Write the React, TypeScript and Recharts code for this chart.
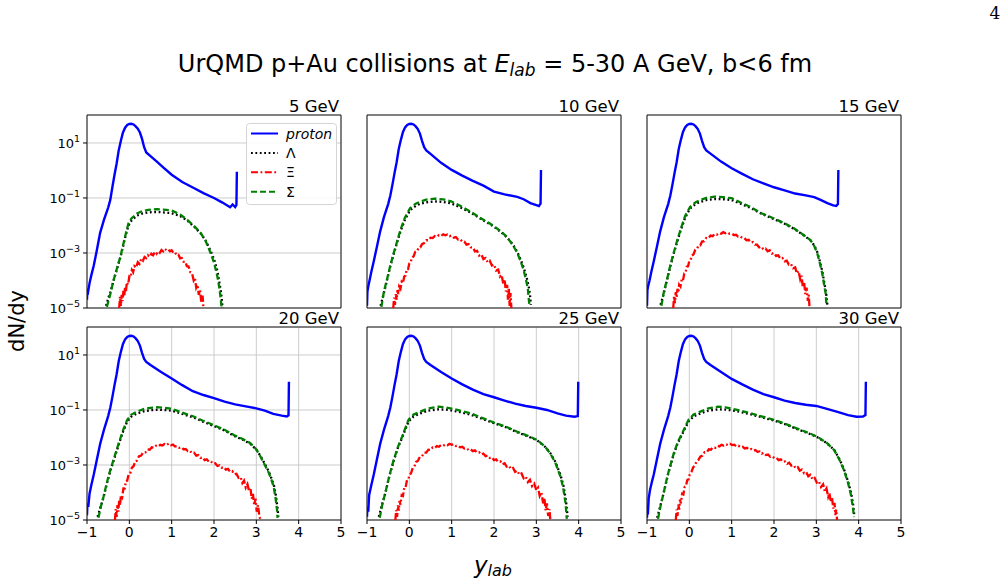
import { CartesianGrid, Legend, Line, LineChart, ReferenceArea, XAxis, YAxis } from 'recharts'

// [rapidity, dN/dy]
type Pt = [number, number]

const energyLabels = ['5 GeV', '10 GeV', '15 GeV', '20 GeV', '25 GeV', '30 GeV']
const xTicks = [-1, 0, 1, 2, 3, 4, 5]
const yTicks = [1e-5, 1e-3, 1e-1, 1e1]
const yDomain: [number, number] = [1e-5, 104]

// ---- 5 GeV ----
const proton5: Pt[] = [
  [-1.0, 2.0e-5], [-0.99, 5.0e-5], [-0.97, 4.2e-5], [-0.94, 8.0e-5], [-0.9, 1.5e-4], [-0.84, 3.5e-4],
  [-0.77, 1.2e-3], [-0.69, 5.4e-3], [-0.6, 1.6e-2], [-0.5, 4.5e-2], [-0.45, 8.5e-2], [-0.4, 0.25],
  [-0.35, 0.7], [-0.3, 1.8], [-0.25, 5.5], [-0.2, 12], [-0.15, 24], [-0.1, 36], [-0.05, 45], [0.0, 49],
  [0.05, 50], [0.1, 47], [0.15, 40], [0.2, 33], [0.25, 24], [0.3, 14], [0.35, 7.0], [0.4, 4.5],
  [0.5, 3.3], [0.65, 2.1], [0.8, 1.3], [1.0, 0.7], [1.25, 0.38], [1.5, 0.24], [1.75, 0.15], [2.0, 0.1],
  [2.2, 0.068], [2.38, 0.046], [2.44, 0.058], [2.5, 0.047], [2.53, 0.056], [2.54, 0.9],
]
const lambda5: Pt[] = [
  [-0.55, 1.2e-5], [-0.5, 2.2e-5], [-0.45, 3.8e-5], [-0.37, 1.0e-4], [-0.3, 2.4e-4], [-0.21, 7.0e-4],
  [-0.1, 3.6e-3], [-0.02, 1.0e-2], [0.05, 1.5e-2], [0.18, 2.3e-2], [0.3, 2.7e-2], [0.45, 3.0e-2],
  [0.65, 3.1e-2], [0.8, 3.0e-2], [1.0, 2.8e-2], [1.2, 2.2e-2], [1.37, 1.5e-2], [1.55, 8.5e-3],
  [1.69, 5.0e-3], [1.8, 2.9e-3], [1.92, 1.2e-3], [2.0, 6.0e-4], [2.08, 2.2e-4], [2.14, 6.5e-5],
  [2.18, 2.5e-5], [2.2, 1.0e-5],
]
const xi5: Pt[] = [
  [-0.24, 1.0e-5], [-0.22, 2.6e-5], [-0.2, 1.2e-5], [-0.18, 3.0e-5], [-0.16, 1.8e-5], [-0.14, 4.2e-5],
  [-0.12, 2.6e-5], [-0.1, 6.0e-5], [-0.08, 4.0e-5], [-0.06, 8.5e-5], [-0.03, 7.0e-5], [0.0, 1.4e-4],
  [0.03, 1.3e-4], [0.06, 2.4e-4], [0.09, 2.0e-4], [0.12, 3.3e-4], [0.16, 2.9e-4], [0.2, 4.6e-4],
  [0.24, 4.0e-4], [0.28, 6.0e-4], [0.32, 5.2e-4], [0.36, 7.2e-4], [0.4, 6.5e-4], [0.44, 8.2e-4],
  [0.48, 7.2e-4], [0.52, 9.3e-4], [0.56, 8.3e-4], [0.6, 1.05e-3], [0.64, 9.2e-4], [0.68, 1.15e-3],
  [0.72, 1.02e-3], [0.76, 1.28e-3], [0.8, 1.15e-3], [0.84, 1.4e-3], [0.88, 1.25e-3], [0.92, 1.35e-3],
  [0.96, 1.15e-3], [1.0, 1.25e-3], [1.04, 1.0e-3], [1.08, 1.05e-3], [1.12, 8.3e-4], [1.16, 8.6e-4],
  [1.2, 6.4e-4], [1.24, 6.6e-4], [1.28, 4.8e-4], [1.32, 4.9e-4], [1.36, 3.3e-4], [1.4, 3.2e-4],
  [1.44, 2.0e-4], [1.48, 1.9e-4], [1.52, 1.0e-4], [1.55, 1.2e-4], [1.58, 5.5e-5], [1.61, 7.0e-5],
  [1.64, 3.0e-5], [1.67, 4.5e-5], [1.7, 1.6e-5], [1.73, 2.8e-5], [1.75, 1.0e-5],
]
const sigma5: Pt[] = [
  [-0.53, 1.1e-5], [-0.45, 3.2e-5], [-0.37, 1.05e-4], [-0.3, 2.5e-4], [-0.21, 7.4e-4], [-0.1, 4.0e-3],
  [-0.02, 1.2e-2], [0.05, 1.8e-2], [0.18, 2.75e-2], [0.3, 3.3e-2], [0.45, 3.7e-2], [0.65, 3.9e-2],
  [0.8, 3.8e-2], [1.0, 3.5e-2], [1.2, 2.5e-2], [1.37, 1.6e-2], [1.55, 8.9e-3], [1.69, 5.2e-3],
  [1.8, 2.8e-3], [1.92, 1.0e-3], [2.0, 4.5e-4], [2.08, 1.4e-4], [2.13, 5.0e-5], [2.16, 2.0e-5],
  [2.18, 1.0e-5],
]

// ---- 10 GeV ----
const proton10: Pt[] = [
  [-1.0, 1.2e-5], [-0.99, 4.0e-5], [-0.97, 6.0e-5], [-0.94, 1.0e-4], [-0.9, 2.0e-4], [-0.84, 5.0e-4],
  [-0.77, 1.6e-3], [-0.69, 6.0e-3], [-0.6, 2.0e-2], [-0.5, 6.0e-2], [-0.45, 0.12], [-0.4, 0.3],
  [-0.35, 0.8], [-0.3, 2.0], [-0.25, 6.0], [-0.2, 13], [-0.15, 25], [-0.1, 37], [-0.05, 45], [0.0, 49],
  [0.05, 50], [0.1, 47], [0.15, 40], [0.2, 32], [0.25, 22], [0.3, 12], [0.35, 7.0], [0.4, 5.4],
  [0.5, 4.0], [0.75, 1.9], [1.0, 1.05], [1.25, 0.65], [1.5, 0.42], [1.75, 0.28], [2.0, 0.17],
  [2.25, 0.135], [2.55, 0.11], [2.7, 0.09], [2.86, 0.065], [3.0, 0.055], [3.06, 0.051], [3.1, 0.062],
  [3.11, 1.05],
]
const lambda10: Pt[] = [
  [-0.68, 1.2e-5], [-0.6, 3.5e-5], [-0.53, 1.0e-4], [-0.45, 3.3e-4], [-0.37, 9.0e-4], [-0.3, 2.1e-3],
  [-0.21, 6.0e-3], [-0.1, 1.7e-2], [0.02, 3.6e-2], [0.15, 5.2e-2], [0.26, 6.2e-2], [0.4, 7.0e-2],
  [0.6, 7.5e-2], [0.8, 7.2e-2], [1.0, 6.3e-2], [1.2, 4.6e-2], [1.44, 3.0e-2], [1.7, 1.7e-2],
  [2.0, 9.0e-3], [2.15, 6.0e-3], [2.3, 3.8e-3], [2.45, 2.0e-3], [2.55, 1.1e-3], [2.63, 5.8e-4],
  [2.7, 3.0e-4], [2.77, 1.3e-4], [2.82, 6.0e-5], [2.85, 3.0e-5], [2.87, 1.3e-5],
]
const xi10: Pt[] = [
  [-0.38, 1.0e-5], [-0.36, 2.4e-5], [-0.34, 1.3e-5], [-0.32, 3.2e-5], [-0.3, 2.0e-5], [-0.28, 4.5e-5],
  [-0.26, 3.2e-5], [-0.24, 6.0e-5], [-0.21, 5.0e-5], [-0.18, 9.0e-5], [-0.15, 8.0e-5], [-0.12, 1.4e-4],
  [-0.09, 1.5e-4], [-0.06, 2.6e-4], [-0.03, 2.6e-4], [0.0, 4.2e-4], [0.03, 4.5e-4], [0.06, 6.8e-4],
  [0.1, 7.5e-4], [0.14, 1.1e-3], [0.18, 1.15e-3], [0.22, 1.55e-3], [0.26, 1.6e-3], [0.3, 2.1e-3],
  [0.35, 2.3e-3], [0.4, 2.9e-3], [0.45, 2.9e-3], [0.5, 3.6e-3], [0.55, 3.5e-3], [0.6, 4.1e-3],
  [0.65, 3.9e-3], [0.7, 4.5e-3], [0.75, 4.2e-3], [0.8, 4.8e-3], [0.85, 4.4e-3], [0.9, 4.7e-3],
  [0.95, 4.1e-3], [1.0, 4.3e-3], [1.05, 3.6e-3], [1.1, 3.8e-3], [1.15, 3.1e-3], [1.2, 3.2e-3],
  [1.25, 2.6e-3], [1.3, 2.6e-3], [1.35, 2.0e-3], [1.4, 2.1e-3], [1.45, 1.6e-3], [1.5, 1.6e-3],
  [1.55, 1.15e-3], [1.6, 1.2e-3], [1.65, 8.0e-4], [1.7, 9.0e-4], [1.75, 6.0e-4], [1.8, 6.6e-4],
  [1.85, 4.6e-4], [1.9, 5.2e-4], [1.95, 3.5e-4], [2.0, 3.8e-4], [2.05, 2.3e-4], [2.1, 2.5e-4],
  [2.14, 1.4e-4], [2.18, 1.6e-4], [2.22, 7.5e-5], [2.25, 1.1e-4], [2.28, 4.0e-5], [2.31, 7.0e-5],
  [2.33, 2.0e-5], [2.35, 5.0e-5], [2.37, 1.2e-5], [2.39, 3.5e-5], [2.41, 1.0e-5],
]
const sigma10: Pt[] = [
  [-0.66, 1.1e-5], [-0.6, 4.0e-5], [-0.53, 1.05e-4], [-0.45, 3.5e-4], [-0.37, 9.8e-4], [-0.3, 2.3e-3],
  [-0.21, 6.9e-3], [-0.1, 2.0e-2], [0.02, 4.3e-2], [0.15, 6.2e-2], [0.26, 7.4e-2], [0.4, 8.7e-2],
  [0.6, 9.5e-2], [0.8, 8.9e-2], [1.0, 7.4e-2], [1.2, 5.2e-2], [1.44, 3.2e-2], [1.7, 1.8e-2],
  [2.0, 9.5e-3], [2.15, 6.3e-3], [2.3, 3.9e-3], [2.45, 1.9e-3], [2.55, 1.0e-3], [2.63, 5.0e-4],
  [2.7, 2.4e-4], [2.76, 1.0e-4], [2.8, 5.0e-5], [2.82, 2.2e-5], [2.84, 1.2e-5],
]

// ---- 15 GeV ----
const proton15: Pt[] = [
  [-1.0, 1.2e-5], [-0.99, 4.5e-5], [-0.97, 6.5e-5], [-0.94, 1.0e-4], [-0.9, 2.0e-4], [-0.84, 5.0e-4],
  [-0.77, 1.6e-3], [-0.69, 6.0e-3], [-0.6, 2.0e-2], [-0.5, 6.0e-2], [-0.45, 0.12], [-0.4, 0.3],
  [-0.35, 0.8], [-0.3, 2.0], [-0.25, 6.0], [-0.2, 13], [-0.15, 25], [-0.1, 37], [-0.05, 45], [0.0, 49],
  [0.05, 50], [0.1, 47], [0.15, 40], [0.2, 32], [0.25, 22], [0.3, 12], [0.35, 7.0], [0.4, 5.4],
  [0.5, 4.1], [0.75, 2.1], [1.0, 1.2], [1.25, 0.75], [1.5, 0.48], [1.75, 0.34], [2.0, 0.245],
  [2.25, 0.19], [2.5, 0.145], [2.75, 0.125], [2.95, 0.107], [3.1, 0.085], [3.26, 0.065], [3.4, 0.054],
  [3.47, 0.051], [3.51, 0.06], [3.52, 1.05],
]
const lambda15: Pt[] = [
  [-0.68, 1.3e-5], [-0.6, 3.6e-5], [-0.53, 1.0e-4], [-0.45, 3.2e-4], [-0.37, 9.2e-4], [-0.3, 2.2e-3],
  [-0.21, 6.2e-3], [-0.1, 1.9e-2], [0.02, 4.2e-2], [0.15, 6.0e-2], [0.26, 7.2e-2], [0.4, 8.4e-2],
  [0.6, 9.2e-2], [0.8, 9.0e-2], [1.0, 8.4e-2], [1.2, 6.3e-2], [1.44, 4.4e-2], [1.7, 2.7e-2],
  [2.0, 1.7e-2], [2.25, 1.15e-2], [2.47, 7.6e-3], [2.7, 4.4e-3], [2.86, 2.9e-3], [2.95, 1.9e-3],
  [3.02, 1.1e-3], [3.08, 5.2e-4], [3.14, 2.2e-4], [3.19, 8.0e-5], [3.23, 3.6e-5], [3.26, 1.3e-5],
]
const xi15: Pt[] = [
  [-0.38, 1.0e-5], [-0.36, 2.8e-5], [-0.34, 1.5e-5], [-0.32, 3.8e-5], [-0.3, 2.4e-5], [-0.28, 5.0e-5],
  [-0.26, 3.6e-5], [-0.24, 7.0e-5], [-0.21, 6.0e-5], [-0.18, 1.1e-4], [-0.15, 1.0e-4], [-0.12, 1.8e-4],
  [-0.09, 1.9e-4], [-0.06, 3.2e-4], [-0.03, 3.3e-4], [0.0, 5.2e-4], [0.03, 5.6e-4], [0.06, 8.0e-4],
  [0.1, 9.0e-4], [0.14, 1.3e-3], [0.18, 1.4e-3], [0.22, 1.9e-3], [0.26, 1.9e-3], [0.3, 2.6e-3],
  [0.35, 2.7e-3], [0.4, 3.5e-3], [0.45, 3.4e-3], [0.5, 4.3e-3], [0.55, 4.1e-3], [0.6, 4.9e-3],
  [0.65, 4.6e-3], [0.7, 5.3e-3], [0.75, 5.0e-3], [0.8, 5.7e-3], [0.85, 5.2e-3], [0.9, 5.6e-3],
  [0.95, 5.0e-3], [1.0, 5.1e-3], [1.05, 4.5e-3], [1.1, 4.6e-3], [1.15, 4.0e-3], [1.2, 4.1e-3],
  [1.25, 3.5e-3], [1.3, 3.5e-3], [1.35, 2.9e-3], [1.4, 3.0e-3], [1.45, 2.4e-3], [1.5, 2.5e-3],
  [1.55, 2.0e-3], [1.6, 2.0e-3], [1.65, 1.6e-3], [1.7, 1.7e-3], [1.75, 1.35e-3], [1.8, 1.45e-3],
  [1.85, 1.15e-3], [1.9, 1.25e-3], [1.95, 9.5e-4], [2.0, 1.0e-3], [2.05, 7.8e-4], [2.1, 8.2e-4],
  [2.15, 6.3e-4], [2.2, 6.6e-4], [2.25, 5.0e-4], [2.3, 5.3e-4], [2.35, 3.8e-4], [2.4, 4.0e-4],
  [2.45, 2.8e-4], [2.5, 3.0e-4], [2.54, 1.8e-4], [2.58, 2.2e-4], [2.62, 1.1e-4], [2.65, 1.5e-4],
  [2.68, 6.0e-5], [2.71, 9.0e-5], [2.74, 3.2e-5], [2.77, 5.5e-5], [2.8, 1.8e-5], [2.82, 3.0e-5],
  [2.84, 1.0e-5],
]
const sigma15: Pt[] = [
  [-0.66, 1.2e-5], [-0.6, 4.0e-5], [-0.53, 1.05e-4], [-0.45, 3.5e-4], [-0.37, 1.0e-3], [-0.3, 2.4e-3],
  [-0.21, 6.9e-3], [-0.1, 2.2e-2], [0.02, 4.8e-2], [0.15, 7.0e-2], [0.26, 8.5e-2], [0.4, 1.0e-1],
  [0.6, 1.12e-1], [0.8, 1.07e-1], [1.0, 9.8e-2], [1.2, 7.0e-2], [1.44, 4.8e-2], [1.7, 2.8e-2],
  [2.0, 1.8e-2], [2.25, 1.2e-2], [2.47, 7.9e-3], [2.7, 4.5e-3], [2.86, 2.95e-3], [2.95, 1.8e-3],
  [3.02, 1.0e-3], [3.08, 4.5e-4], [3.14, 1.8e-4], [3.19, 6.0e-5], [3.22, 3.4e-5], [3.24, 1.26e-5],
]

// ---- 20 GeV ----
const proton20: Pt[] = [
  [-1.0, 1.5e-5], [-0.99, 4.0e-5], [-0.97, 3.0e-5], [-0.94, 9.0e-5], [-0.9, 1.8e-4], [-0.84, 4.5e-4],
  [-0.77, 1.5e-3], [-0.69, 5.8e-3], [-0.6, 1.9e-2], [-0.5, 6.0e-2], [-0.45, 0.12], [-0.4, 0.3],
  [-0.35, 0.8], [-0.3, 2.0], [-0.25, 6.0], [-0.2, 13], [-0.15, 25], [-0.1, 37], [-0.05, 45], [0.0, 49],
  [0.05, 50], [0.1, 47], [0.15, 40], [0.2, 32], [0.25, 22], [0.3, 12], [0.35, 7.2], [0.4, 5.6],
  [0.5, 4.3], [0.75, 2.4], [1.0, 1.4], [1.25, 0.8], [1.5, 0.48], [1.75, 0.35], [2.0, 0.27],
  [2.25, 0.2], [2.5, 0.16], [2.75, 0.135], [3.0, 0.115], [3.2, 0.095], [3.4, 0.072], [3.6, 0.062],
  [3.72, 0.058], [3.76, 0.064], [3.77, 1.07],
]
const lambda20: Pt[] = [
  [-0.75, 1.3e-5], [-0.68, 3.0e-5], [-0.61, 6.5e-5], [-0.53, 2.1e-4], [-0.45, 6.0e-4], [-0.35, 1.8e-3],
  [-0.25, 5.6e-3], [-0.15, 1.6e-2], [-0.05, 3.8e-2], [0.05, 5.8e-2], [0.18, 7.4e-2], [0.35, 9.0e-2],
  [0.5, 9.8e-2], [0.65, 1.02e-1], [0.8, 1.0e-1], [1.0, 9.5e-2], [1.25, 7.2e-2], [1.52, 5.3e-2],
  [1.75, 3.7e-2], [2.0, 2.6e-2], [2.25, 1.8e-2], [2.47, 1.15e-2], [2.7, 8.0e-3], [2.86, 5.8e-3],
  [3.0, 3.6e-3], [3.1, 2.1e-3], [3.2, 1.1e-3], [3.29, 6.0e-4], [3.36, 3.2e-4], [3.42, 1.7e-4],
  [3.46, 8.0e-5], [3.5, 2.8e-5], [3.52, 1.3e-5],
]
const xi20: Pt[] = [
  [-0.34, 1.0e-5], [-0.32, 2.5e-5], [-0.3, 1.3e-5], [-0.28, 3.5e-5], [-0.26, 2.0e-5], [-0.24, 5.0e-5],
  [-0.22, 3.4e-5], [-0.2, 7.5e-5], [-0.17, 6.5e-5], [-0.14, 1.4e-4], [-0.11, 1.4e-4], [-0.08, 2.6e-4],
  [-0.05, 2.7e-4], [-0.02, 4.4e-4], [0.02, 5.0e-4], [0.06, 8.0e-4], [0.1, 9.0e-4], [0.14, 1.35e-3],
  [0.18, 1.45e-3], [0.23, 2.1e-3], [0.28, 2.2e-3], [0.33, 2.9e-3], [0.38, 2.9e-3], [0.43, 3.7e-3],
  [0.48, 3.6e-3], [0.53, 4.4e-3], [0.58, 4.2e-3], [0.63, 5.0e-3], [0.68, 4.7e-3], [0.73, 5.4e-3],
  [0.78, 5.1e-3], [0.83, 5.8e-3], [0.88, 5.3e-3], [0.93, 6.0e-3], [0.98, 5.2e-3], [1.03, 5.5e-3],
  [1.08, 4.7e-3], [1.13, 4.9e-3], [1.18, 4.2e-3], [1.23, 4.4e-3], [1.28, 3.7e-3], [1.33, 3.8e-3],
  [1.38, 3.2e-3], [1.43, 3.3e-3], [1.48, 2.7e-3], [1.53, 2.8e-3], [1.58, 2.2e-3], [1.63, 2.3e-3],
  [1.68, 1.8e-3], [1.73, 1.9e-3], [1.78, 1.5e-3], [1.83, 1.6e-3], [1.88, 1.3e-3], [1.93, 1.35e-3],
  [1.98, 1.1e-3], [2.03, 1.15e-3], [2.08, 9.2e-4], [2.13, 9.8e-4], [2.18, 8.0e-4], [2.23, 8.4e-4],
  [2.28, 6.8e-4], [2.33, 7.2e-4], [2.38, 5.7e-4], [2.43, 6.0e-4], [2.48, 4.6e-4], [2.53, 4.8e-4],
  [2.58, 3.4e-4], [2.63, 3.6e-4], [2.67, 2.2e-4], [2.71, 2.7e-4], [2.75, 1.5e-4], [2.79, 2.0e-4],
  [2.83, 1.1e-4], [2.86, 1.5e-4], [2.89, 6.0e-5], [2.92, 9.0e-5], [2.95, 3.5e-5], [2.98, 6.0e-5],
  [3.01, 2.0e-5], [3.04, 3.5e-5], [3.07, 1.4e-5], [3.1, 1.0e-5],
]
const sigma20: Pt[] = [
  [-0.73, 1.2e-5], [-0.67, 3.2e-5], [-0.61, 7.0e-5], [-0.53, 2.3e-4], [-0.45, 6.6e-4], [-0.35, 2.0e-3],
  [-0.25, 6.2e-3], [-0.15, 1.8e-2], [-0.05, 4.4e-2], [0.05, 6.8e-2], [0.18, 8.7e-2], [0.35, 1.1e-1],
  [0.5, 1.2e-1], [0.65, 1.26e-1], [0.8, 1.22e-1], [1.0, 1.12e-1], [1.25, 8.0e-2], [1.52, 5.8e-2],
  [1.75, 4.0e-2], [2.0, 2.8e-2], [2.25, 1.9e-2], [2.47, 1.23e-2], [2.7, 8.5e-3], [2.86, 6.2e-3],
  [3.0, 3.7e-3], [3.1, 2.0e-3], [3.2, 1.0e-3], [3.29, 5.4e-4], [3.36, 2.8e-4], [3.41, 1.6e-4],
  [3.45, 7.0e-5], [3.49, 2.3e-5], [3.5, 1.2e-5],
]

// ---- 25 GeV ----
const proton25: Pt[] = [
  [-1.0, 1.3e-5], [-0.99, 3.0e-5], [-0.97, 2.0e-5], [-0.95, 8.0e-5], [-0.9, 1.8e-4], [-0.84, 4.5e-4],
  [-0.77, 1.5e-3], [-0.69, 5.8e-3], [-0.6, 1.9e-2], [-0.5, 6.0e-2], [-0.45, 0.12], [-0.4, 0.3],
  [-0.35, 0.8], [-0.3, 2.0], [-0.25, 6.0], [-0.2, 13], [-0.15, 25], [-0.1, 37], [-0.05, 45], [0.0, 49],
  [0.05, 50], [0.1, 47], [0.15, 40], [0.2, 32], [0.25, 22], [0.3, 12], [0.35, 7.2], [0.4, 5.6],
  [0.5, 4.3], [0.75, 2.4], [1.0, 1.4], [1.25, 0.85], [1.5, 0.55], [1.75, 0.38], [2.0, 0.29],
  [2.25, 0.22], [2.5, 0.17], [2.75, 0.14], [3.0, 0.12], [3.25, 0.1], [3.5, 0.075], [3.7, 0.062],
  [3.9, 0.057], [3.98, 0.06], [3.99, 1.07],
]
const lambda25: Pt[] = [
  [-0.72, 1.3e-5], [-0.65, 3.4e-5], [-0.57, 9.0e-5], [-0.47, 4.0e-4], [-0.37, 1.4e-3], [-0.27, 4.2e-3],
  [-0.17, 9.8e-3], [-0.02, 3.8e-2], [0.1, 5.8e-2], [0.26, 7.5e-2], [0.45, 9.5e-2], [0.68, 1.05e-1],
  [0.85, 1.03e-1], [1.0, 9.6e-2], [1.2, 8.4e-2], [1.44, 6.8e-2], [1.7, 4.9e-2], [2.0, 3.3e-2],
  [2.3, 2.3e-2], [2.55, 1.55e-2], [2.8, 1.1e-2], [3.02, 7.8e-3], [3.2, 4.7e-3], [3.33, 2.7e-3],
  [3.45, 1.3e-3], [3.57, 4.4e-4], [3.64, 1.8e-4], [3.7, 5.0e-5], [3.74, 1.3e-5],
]
const xi25: Pt[] = [
  [-0.33, 1.0e-5], [-0.31, 2.3e-5], [-0.29, 1.3e-5], [-0.27, 3.4e-5], [-0.25, 2.2e-5], [-0.23, 5.0e-5],
  [-0.21, 3.6e-5], [-0.18, 8.0e-5], [-0.15, 7.5e-5], [-0.12, 1.5e-4], [-0.09, 1.5e-4], [-0.06, 2.6e-4],
  [-0.03, 2.7e-4], [0.0, 4.2e-4], [0.04, 5.0e-4], [0.08, 7.8e-4], [0.12, 8.8e-4], [0.16, 1.3e-3],
  [0.2, 1.4e-3], [0.25, 2.0e-3], [0.3, 2.1e-3], [0.35, 2.8e-3], [0.4, 2.8e-3], [0.45, 3.6e-3],
  [0.5, 3.5e-3], [0.55, 4.3e-3], [0.6, 4.1e-3], [0.65, 4.9e-3], [0.7, 4.6e-3], [0.75, 5.3e-3],
  [0.8, 5.0e-3], [0.85, 5.6e-3], [0.9, 5.2e-3], [0.95, 5.9e-3], [1.0, 5.4e-3], [1.05, 5.7e-3],
  [1.1, 4.9e-3], [1.15, 5.1e-3], [1.2, 4.4e-3], [1.25, 4.6e-3], [1.3, 4.0e-3], [1.35, 4.1e-3],
  [1.4, 3.5e-3], [1.45, 3.7e-3], [1.5, 3.2e-3], [1.55, 3.4e-3], [1.6, 2.8e-3], [1.65, 2.9e-3],
  [1.7, 2.4e-3], [1.75, 2.6e-3], [1.8, 2.1e-3], [1.85, 2.2e-3], [1.9, 1.8e-3], [1.95, 1.9e-3],
  [2.0, 1.5e-3], [2.05, 1.6e-3], [2.1, 1.3e-3], [2.15, 1.35e-3], [2.2, 1.05e-3], [2.25, 1.15e-3],
  [2.3, 8.8e-4], [2.35, 9.5e-4], [2.4, 7.2e-4], [2.45, 7.8e-4], [2.5, 5.6e-4], [2.55, 6.2e-4],
  [2.6, 4.4e-4], [2.65, 4.9e-4], [2.7, 3.3e-4], [2.75, 3.8e-4], [2.8, 2.4e-4], [2.85, 2.9e-4],
  [2.9, 1.7e-4], [2.95, 2.1e-4], [3.0, 1.2e-4], [3.04, 1.5e-4], [3.08, 7.5e-5], [3.12, 1.0e-4],
  [3.16, 4.0e-5], [3.19, 6.5e-5], [3.22, 2.2e-5], [3.25, 4.0e-5], [3.28, 1.4e-5], [3.31, 2.5e-5],
  [3.33, 1.0e-5],
]
const sigma25: Pt[] = [
  [-0.7, 1.2e-5], [-0.64, 3.6e-5], [-0.57, 9.3e-5], [-0.47, 4.2e-4], [-0.37, 1.5e-3], [-0.27, 4.5e-3],
  [-0.17, 1.07e-2], [-0.02, 4.4e-2], [0.1, 6.8e-2], [0.26, 8.7e-2], [0.45, 1.15e-1], [0.68, 1.32e-1],
  [0.85, 1.25e-1], [1.0, 1.12e-1], [1.2, 9.5e-2], [1.44, 7.6e-2], [1.7, 5.3e-2], [2.0, 3.5e-2],
  [2.3, 2.4e-2], [2.55, 1.62e-2], [2.8, 1.15e-2], [3.02, 8.1e-3], [3.2, 4.8e-3], [3.33, 2.6e-3],
  [3.45, 1.2e-3], [3.57, 3.8e-4], [3.63, 1.6e-4], [3.69, 4.1e-5], [3.72, 1.1e-5],
]

// ---- 30 GeV ----
const proton30: Pt[] = [
  [-1.0, 1.2e-5], [-0.99, 3.5e-5], [-0.98, 1.6e-5], [-0.96, 6.0e-5], [-0.93, 1.2e-4], [-0.88, 2.6e-4],
  [-0.84, 4.5e-4], [-0.77, 1.5e-3], [-0.69, 5.8e-3], [-0.6, 1.9e-2], [-0.5, 6.0e-2], [-0.45, 0.12],
  [-0.4, 0.3], [-0.35, 0.8], [-0.3, 2.0], [-0.25, 6.0], [-0.2, 13], [-0.15, 25], [-0.1, 37], [-0.05, 45],
  [0.0, 49], [0.05, 50], [0.1, 47], [0.15, 40], [0.2, 32], [0.25, 22], [0.3, 12], [0.35, 7.2],
  [0.4, 5.6], [0.5, 4.3], [0.75, 2.4], [1.0, 1.35], [1.25, 0.85], [1.5, 0.55], [1.75, 0.38],
  [2.0, 0.29], [2.25, 0.22], [2.5, 0.18], [2.75, 0.155], [3.0, 0.14], [3.25, 0.11], [3.5, 0.085],
  [3.75, 0.065], [3.95, 0.057], [4.1, 0.058], [4.16, 0.065], [4.17, 1.07],
]
const lambda30: Pt[] = [
  [-0.76, 1.2e-5], [-0.69, 3.0e-5], [-0.61, 9.0e-5], [-0.5, 4.8e-4], [-0.37, 2.4e-3], [-0.27, 6.4e-3],
  [-0.17, 1.3e-2], [-0.02, 3.8e-2], [0.1, 5.8e-2], [0.26, 7.5e-2], [0.45, 9.5e-2], [0.68, 1.05e-1],
  [0.85, 1.03e-1], [1.0, 9.7e-2], [1.2, 8.5e-2], [1.44, 7.0e-2], [1.7, 5.5e-2], [2.0, 4.1e-2],
  [2.3, 2.9e-2], [2.55, 2.0e-2], [2.8, 1.45e-2], [3.02, 1.03e-2], [3.25, 6.2e-3], [3.42, 3.6e-3],
  [3.55, 1.6e-3], [3.65, 7.2e-4], [3.74, 2.8e-4], [3.82, 1.0e-4], [3.87, 3.6e-5], [3.9, 1.3e-5],
]
const xi30: Pt[] = [
  [-0.32, 1.0e-5], [-0.3, 2.4e-5], [-0.28, 1.4e-5], [-0.26, 3.6e-5], [-0.24, 2.4e-5], [-0.22, 5.5e-5],
  [-0.2, 4.0e-5], [-0.17, 9.0e-5], [-0.14, 8.5e-5], [-0.11, 1.6e-4], [-0.08, 1.7e-4], [-0.05, 2.8e-4],
  [-0.02, 3.0e-4], [0.01, 4.5e-4], [0.05, 5.6e-4], [0.09, 8.2e-4], [0.13, 9.5e-4], [0.17, 1.35e-3],
  [0.21, 1.5e-3], [0.26, 2.0e-3], [0.31, 2.2e-3], [0.36, 2.9e-3], [0.41, 2.9e-3], [0.46, 3.7e-3],
  [0.51, 3.6e-3], [0.56, 4.4e-3], [0.61, 4.2e-3], [0.66, 5.0e-3], [0.71, 4.7e-3], [0.76, 5.4e-3],
  [0.81, 5.1e-3], [0.86, 5.7e-3], [0.91, 5.3e-3], [0.96, 5.9e-3], [1.01, 5.3e-3], [1.06, 5.5e-3],
  [1.11, 4.8e-3], [1.16, 5.0e-3], [1.21, 4.4e-3], [1.26, 4.6e-3], [1.31, 4.0e-3], [1.36, 4.2e-3],
  [1.41, 3.6e-3], [1.46, 3.8e-3], [1.51, 3.3e-3], [1.56, 3.5e-3], [1.61, 3.0e-3], [1.66, 3.1e-3],
  [1.71, 2.6e-3], [1.76, 2.8e-3], [1.81, 2.3e-3], [1.86, 2.4e-3], [1.91, 2.0e-3], [1.96, 2.1e-3],
  [2.01, 1.75e-3], [2.06, 1.8e-3], [2.11, 1.5e-3], [2.16, 1.6e-3], [2.21, 1.3e-3], [2.26, 1.35e-3],
  [2.31, 1.1e-3], [2.36, 1.2e-3], [2.41, 9.5e-4], [2.46, 1.0e-3], [2.51, 7.8e-4], [2.56, 8.4e-4],
  [2.61, 6.2e-4], [2.66, 6.8e-4], [2.71, 5.0e-4], [2.76, 5.5e-4], [2.81, 3.9e-4], [2.86, 4.4e-4],
  [2.91, 3.0e-4], [2.96, 3.4e-4], [3.01, 2.3e-4], [3.06, 2.6e-4], [3.11, 1.6e-4], [3.16, 2.0e-4],
  [3.2, 1.1e-4], [3.24, 1.4e-4], [3.28, 7.0e-5], [3.31, 9.5e-5], [3.34, 4.5e-5], [3.37, 6.5e-5],
  [3.4, 2.6e-5], [3.43, 4.2e-5], [3.45, 1.5e-5], [3.47, 2.4e-5], [3.49, 1.0e-5],
]
const sigma30: Pt[] = [
  [-0.74, 1.1e-5], [-0.68, 3.2e-5], [-0.61, 9.3e-5], [-0.5, 5.0e-4], [-0.37, 2.6e-3], [-0.27, 7.0e-3],
  [-0.17, 1.4e-2], [-0.02, 4.4e-2], [0.1, 6.8e-2], [0.26, 8.7e-2], [0.45, 1.15e-1], [0.68, 1.32e-1],
  [0.85, 1.25e-1], [1.0, 1.12e-1], [1.2, 9.5e-2], [1.44, 7.6e-2], [1.7, 5.9e-2], [2.0, 4.4e-2],
  [2.3, 3.0e-2], [2.55, 2.1e-2], [2.8, 1.5e-2], [3.02, 1.07e-2], [3.25, 6.3e-3], [3.42, 3.5e-3],
  [3.55, 1.5e-3], [3.65, 6.6e-4], [3.74, 2.5e-4], [3.81, 9.3e-5], [3.86, 3.2e-5], [3.89, 1.26e-5],
]

const panels = [
  { proton: proton5, lambda: lambda5, xi: xi5, sigma: sigma5 },
  { proton: proton10, lambda: lambda10, xi: xi10, sigma: sigma10 },
  { proton: proton15, lambda: lambda15, xi: xi15, sigma: sigma15 },
  { proton: proton20, lambda: lambda20, xi: xi20, sigma: sigma20 },
  { proton: proton25, lambda: lambda25, xi: xi25, sigma: sigma25 },
  { proton: proton30, lambda: lambda30, xi: xi30, sigma: sigma30 },
]

const series = [
  { key: 'proton', label: 'proton', color: '#0000ff', dash: undefined, width: 2.4, italic: true },
  { key: 'lambda', label: 'Λ', color: '#000000', dash: '1.8 2.6', width: 2.3, italic: false },
  { key: 'xi', label: 'Ξ', color: '#ff0000', dash: '7 2.5 1.8 2.5', width: 2.3, italic: false },
  { key: 'sigma', label: 'Σ', color: '#008000', dash: '6 3', width: 2.3, italic: false },
] as const

const FONT = '"DejaVu Sans", sans-serif'
const COL_X = [87, 367, 647]
const ROW_Y = [115, 327]
const PLOT_W = 254
const PLOT_H = 193
const AXIS_W = 45
const AXIS_H = 30
const PAD_T = 5
const PAD_R = 6

const toRows = (pts: Pt[]) => pts.map(([x, v]) => ({ x, v }))
const fmtX = (v: number) => (v < 0 ? `\u2212${-v}` : `${v}`)

const LogTick = (props: any) => {
  const { x, y, payload } = props
  const p = Math.round(Math.log10(payload.value))
  const exp = p < 0 ? `\u2212${-p}` : `${p}`
  return (
    <text x={x} y={y + 5} textAnchor="end" fontFamily={FONT} fontSize={13} fill="#000">
      10
      <tspan dy={-6} fontSize={9.5}>
        {exp}
      </tspan>
    </text>
  )
}

const LegendBox = () => (
  <svg width={91} height={82} style={{ display: 'block' }}>
    <rect x={0.5} y={0.5} width={90} height={81} rx={3} fill="#ffffff" fillOpacity={0.85} stroke="#d4d4d4" />
    {series.map((s, i) => {
      const cy = 10.5 + i * 19.4
      return (
        <g key={s.key}>
          <line x1={5} x2={32} y1={cy} y2={cy} stroke={s.color} strokeWidth={2} strokeDasharray={s.dash} />
          <text x={40} y={cy + 5} fontFamily={FONT} fontSize={14} fontStyle={s.italic ? 'italic' : 'normal'} fill="#000">
            {s.label}
          </text>
        </g>
      )
    })}
  </svg>
)

const Panel = ({ idx }: { idx: number }) => {
  const col = idx % 3
  const row = Math.floor(idx / 3)
  const d = panels[idx]
  return (
    <div style={{ position: 'absolute', left: COL_X[col] - AXIS_W, top: ROW_Y[row] - PAD_T }}>
      <LineChart
        width={AXIS_W + PLOT_W + PAD_R}
        height={PAD_T + PLOT_H + AXIS_H}
        margin={{ top: PAD_T, right: PAD_R, bottom: 0, left: 0 }}
      >
        <CartesianGrid stroke="#c6c6c6" strokeWidth={0.9} />
        <XAxis
          type="number"
          dataKey="x"
          domain={[-1, 5]}
          ticks={xTicks}
          allowDataOverflow
          height={AXIS_H}
          axisLine={false}
          stroke="#000"
          tickSize={4}
          tickMargin={3}
          tickFormatter={fmtX}
          tick={row === 1 ? { fontFamily: FONT, fontSize: 14, fill: '#000' } : false}
        />
        <YAxis
          type="number"
          scale="log"
          domain={yDomain}
          ticks={yTicks}
          allowDataOverflow
          width={AXIS_W}
          axisLine={false}
          stroke="#000"
          tickSize={4}
          tickMargin={3}
          tick={col === 0 ? <LogTick /> : false}
        />
        {series.map((s) => (
          <Line
            key={s.key}
            data={toRows(d[s.key])}
            dataKey="v"
            type="linear"
            stroke={s.color}
            strokeWidth={s.width}
            strokeDasharray={s.dash}
            dot={false}
            activeDot={false}
            isAnimationActive={false}
          />
        ))}
        <ReferenceArea x1={-1} x2={5} y1={yDomain[0]} y2={yDomain[1]} fill="none" stroke="#1a1a1a" strokeWidth={1} />
        {idx === 0 && (
          <Legend
            layout="vertical"
            align="center"
            verticalAlign="middle"
            wrapperStyle={{ left: 246 - (COL_X[0] - AXIS_W), top: 123 - (ROW_Y[0] - PAD_T), width: 91 }}
            content={() => <LegendBox />}
          />
        )}
      </LineChart>
    </div>
  )
}

export default function App() {
  return (
    <div style={{ position: 'absolute', left: 0, top: 0, width: 1007, height: 585, background: '#fff' }}>
      {panels.map((_, i) => (
        <Panel key={i} idx={i} />
      ))}
      <svg width={1007} height={585} style={{ position: 'absolute', left: 0, top: 0, pointerEvents: 'none' }}>
        <text x={995} y={19} textAnchor="middle" fontFamily='"DejaVu Serif", serif' fontSize={17} fill="#000">
          4
        </text>
        <text x={495} y={72} textAnchor="middle" fontFamily={FONT} fontSize={24} fill="#000">
          UrQMD p+Au collisions at <tspan fontStyle="italic">E</tspan>
          <tspan fontStyle="italic" fontSize={17} dy={4}>
            lab
          </tspan>
          <tspan dy={-4}> = 5-30 A GeV, b&lt;6 fm</tspan>
        </text>
        {energyLabels.map((t, i) => (
          <text
            key={t}
            x={COL_X[i % 3] + PLOT_W - 2}
            y={ROW_Y[Math.floor(i / 3)] - 3}
            textAnchor="end"
            fontFamily={FONT}
            fontSize={16.5}
            fill="#000"
          >
            {t}
          </text>
        ))}
        <text x={24} y={321} textAnchor="middle" transform="rotate(-90 24 321)" fontFamily={FONT} fontSize={21} fill="#000">
          dN/dy
        </text>
        <text x={493} y={573} textAnchor="middle" fontFamily={FONT} fontStyle="italic" fill="#000">
          <tspan fontSize={23}>y</tspan>
          <tspan fontSize={16} dy={3}>
            lab
          </tspan>
        </text>
      </svg>
    </div>
  )
}
